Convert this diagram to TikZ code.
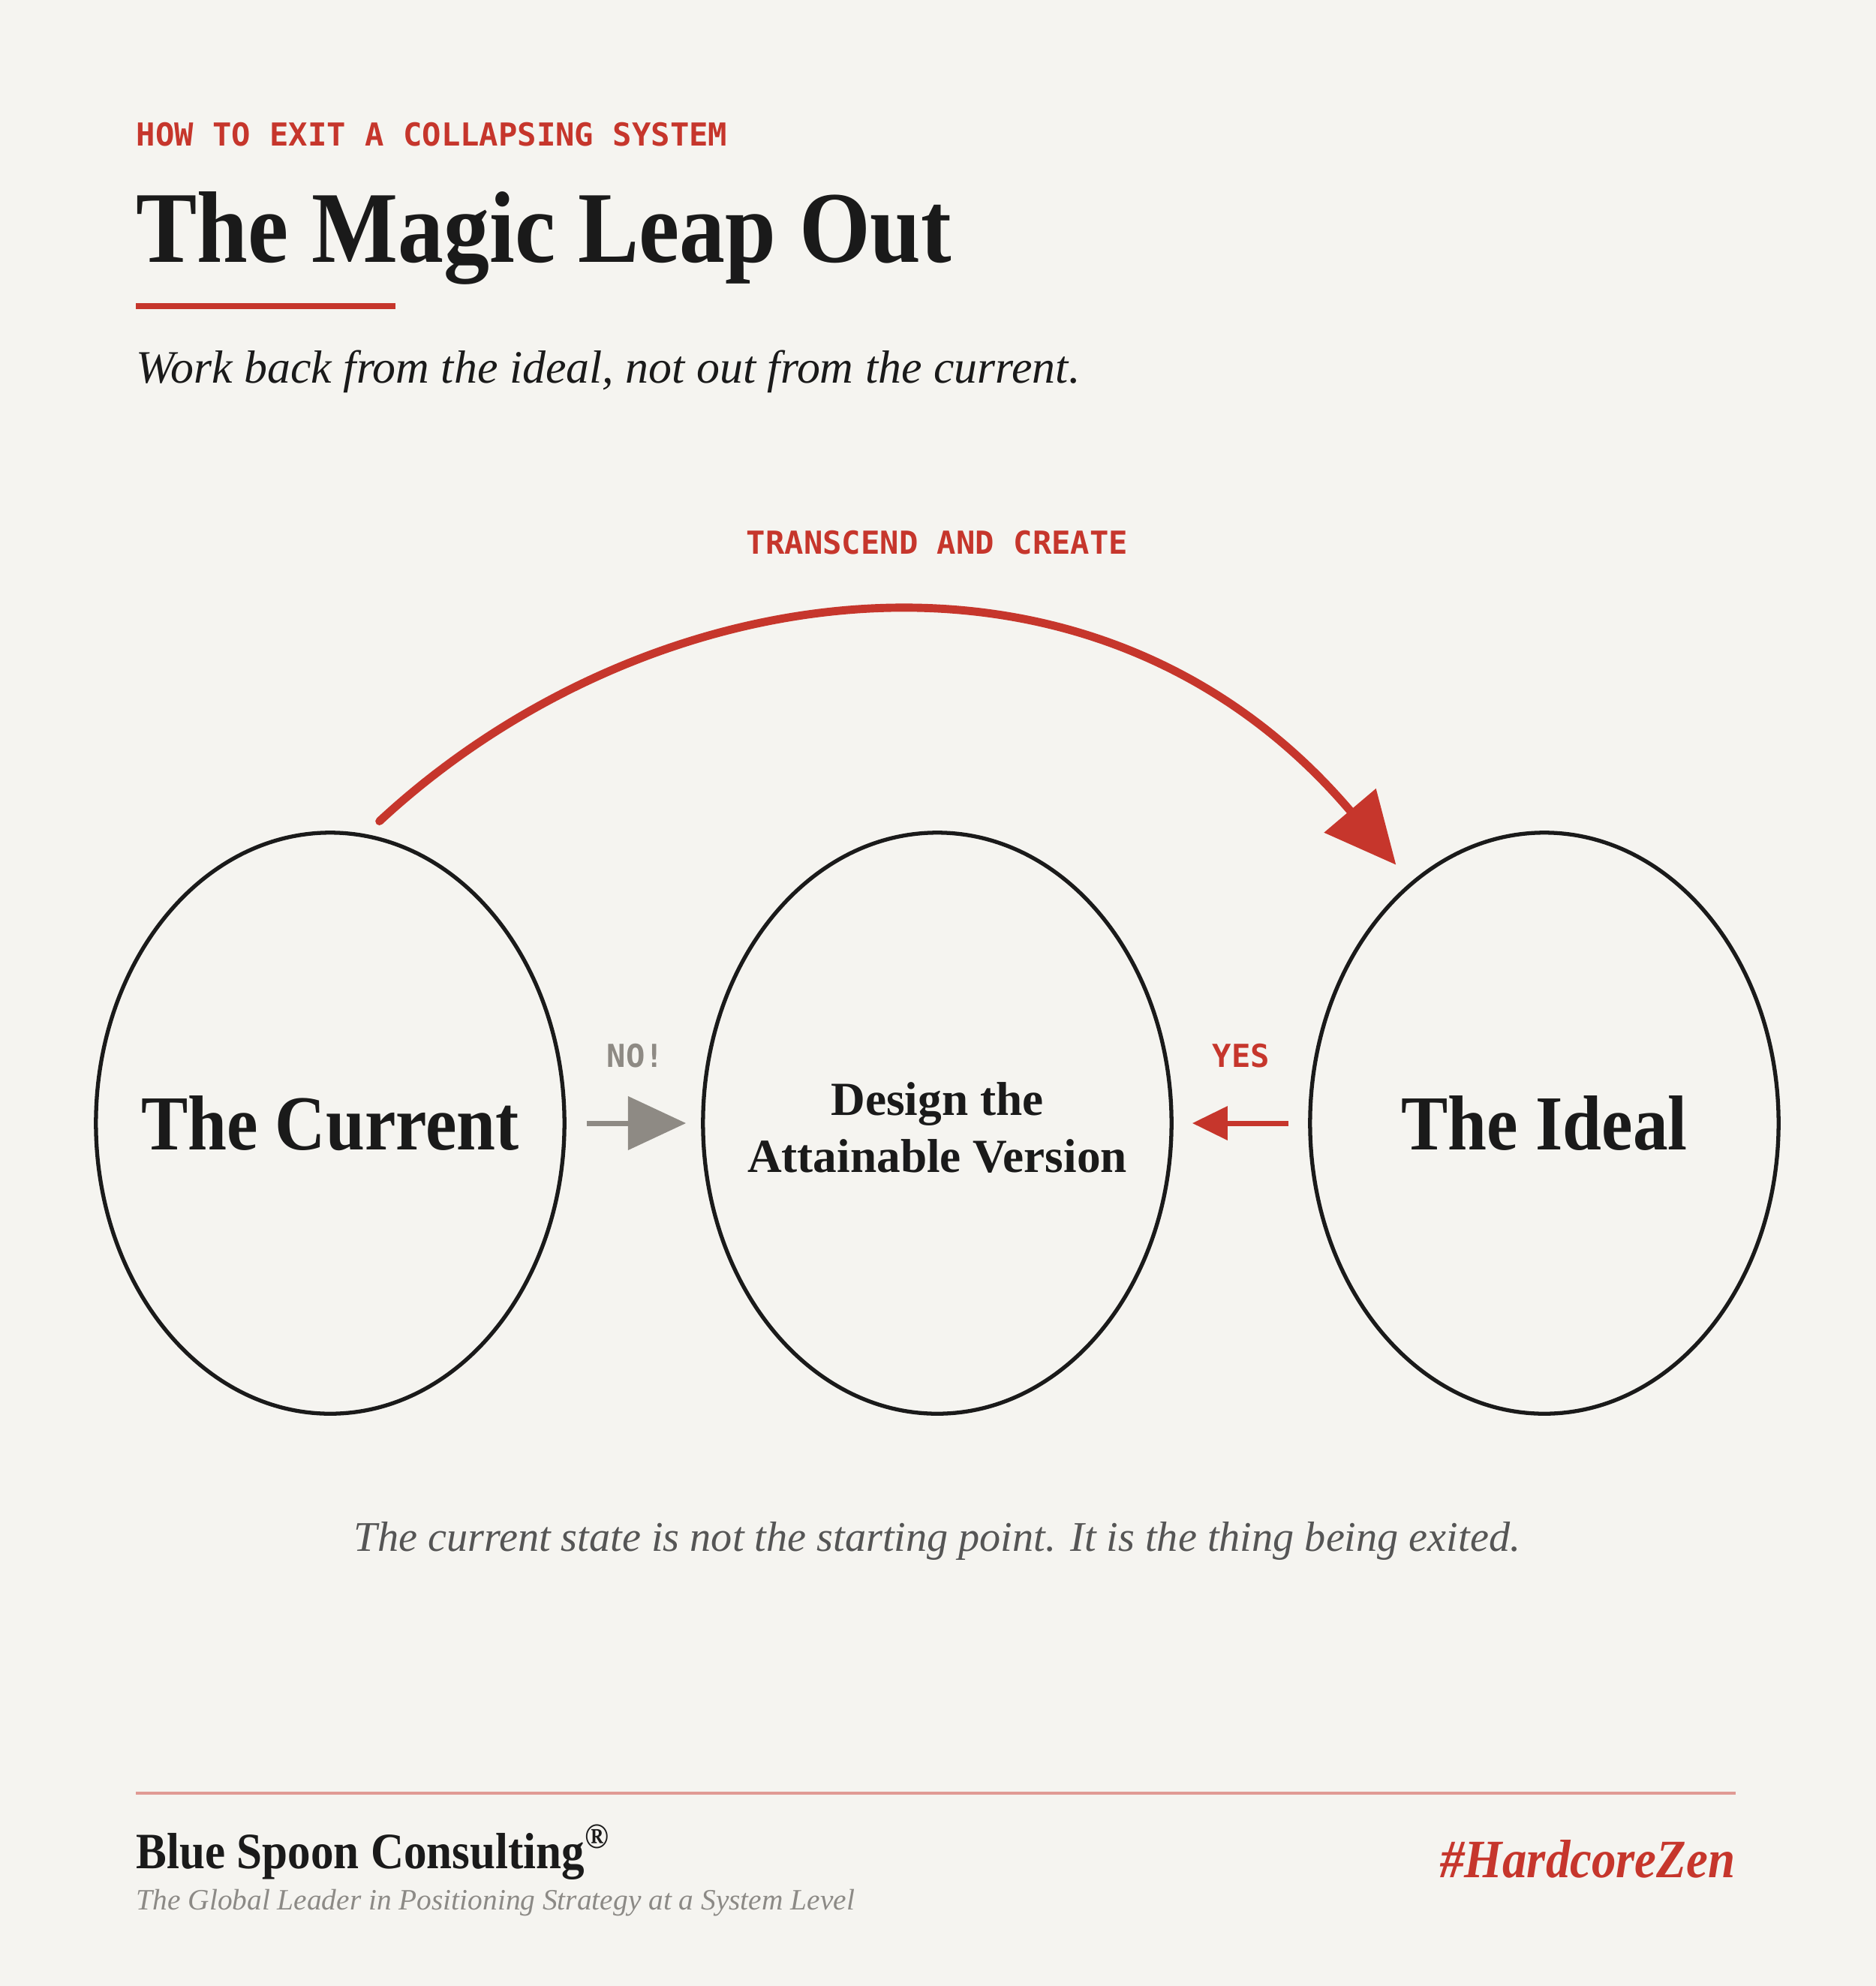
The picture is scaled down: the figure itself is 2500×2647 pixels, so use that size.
\documentclass[tikz,border=0pt]{standalone}
\usepackage{fontspec}
\setmainfont{Liberation Serif}
\newfontfamily\displayfont[FakeStretch=0.9]{Liberation Serif}
\newfontfamily\capsfont{DejaVu Sans Mono}
\usetikzlibrary{shapes.geometric,arrows.meta}

\definecolor{paper}{HTML}{F5F4F0}
\definecolor{leapred}{HTML}{C6362C}
\definecolor{ink}{HTML}{1A1A1A}
\definecolor{stone}{HTML}{8E8A84}
\definecolor{slate}{HTML}{555555}
\definecolor{mist}{HTML}{8C8A86}
\definecolor{rulered}{HTML}{E09A94}

\begin{document}
\begin{tikzpicture}
[
x=0.01cm, y=0.01cm,
state/.style={
% The shape:
ellipse,
% The size:
minimum width=6.24cm,
minimum height=7.74cm,
inner sep=0pt,
% The border:
line width=1.5pt,
draw=ink,
},
statetext/.style={
% The text: sits in the middle of its state
text=ink,
align=center,
inner sep=0pt,
},
kicker/.style={
% The font: monospaced, bold
font=\capsfont\bfseries\fontsize{12}{14}\selectfont,
% The colour:
text=leapred,
inner sep=0pt,
},
headline/.style={
% The font: a narrowed serif, bold
font=\displayfont\bfseries\fontsize{38.5}{44}\selectfont,
text=ink,
inner sep=0pt,
},
remark/.style={
% The font: serif italic
font=\itshape\fontsize{17.6}{21}\selectfont,
text=ink,
inner sep=0pt,
},
nogo/.style={
% The line:
line width=2pt,
draw=stone,
% The tip: a plain triangle
-{Triangle[length=22pt,width=20pt,fill=stone]},
shorten <=0.27cm,
shorten >=0.2cm,
},
yesgo/.style={
% The line:
line width=2pt,
draw=leapred,
% The tip: a smaller triangle
-{Triangle[length=13.4pt,width=12.5pt,fill=leapred]},
shorten <=0.26cm,
shorten >=0.25cm,
},
leap/.style={
% The line:
line width=3.1pt,
draw=leapred,
line cap=round,
% The tip: a big triangle
-{Triangle[length=27pt,width=25pt,fill=leapred]},
shorten <=0.25cm,
shorten >=0.3cm,
}
]
    % the paper
    \fill[paper] (0,0) rectangle (2500,-2647);

    % heading
    \node[kicker, anchor=base west] (kick) at (181,-194) {HOW TO EXIT A COLLAPSING SYSTEM};
    \node[headline, anchor=base west] (title) at (181,-349) {The Magic Leap Out};
    \draw[leapred, line width=2.5pt] (181,-408) -- (527,-408);
    \node[remark, anchor=base west] (sub) at (181,-510) {Work back from the ideal, not out from the current.};

    % the three states
    \node[state] (cur) at (440,-1497) {};
    \node[state] (mid) at (1249,-1497) {};
    \node[state] (ideal) at (2058,-1497) {};
    \node[statetext, font=\displayfont\bfseries\fontsize{29.5}{34}\selectfont] (curtext) at (cur) {The Current};
    \node[statetext, font=\bfseries\fontsize{18}{21.5}\selectfont, yshift=-0.06cm] (midtext) at (mid) {Design the\\Attainable Version};
    \node[statetext, font=\displayfont\bfseries\fontsize{29.5}{34}\selectfont] (idealtext) at (ideal) {The Ideal};

    % labels
    \node[kicker, anchor=base] (leaplabel) at (1249,-738) {TRANSCEND AND CREATE};
    \node[kicker, anchor=base, text=stone] (nolabel) at (847,-1422) {NO!};
    \node[kicker, anchor=base] (yeslabel) at (1654,-1422) {YES};

    % arrows
    \draw[leap] (cur.83) .. controls +(377,350) and +(-424,500) .. (ideal.119);
    \draw[nogo] (cur.east) -- (mid.west);
    \draw[yesgo] (ideal.west) -- (mid.east);

    % closing line
    \node[anchor=base, inner sep=0pt, text=slate, font=\itshape\fontsize{16}{19}\selectfont] (note) at (1249,-2067) {The current state is not the starting point. It is the thing being exited.};

    % footer
    \draw[rulered, line width=1.1pt] (181,-2390) -- (2313,-2390);
    \node[anchor=base west, inner sep=0pt, text=ink, font=\displayfont\bfseries\fontsize{19.3}{23}\selectfont] (brand) at (181,-2490) {Blue Spoon Consulting\textsuperscript{®}};
    \node[anchor=base west, inner sep=0pt, text=mist, font=\itshape\fontsize{11.2}{13}\selectfont] (motto) at (181,-2545) {The Global Leader in Positioning Strategy at a System Level};
    \node[anchor=base east, inner sep=0pt, text=leapred, font=\displayfont\bfseries\itshape\fontsize{20.5}{24}\selectfont] (tag) at (2313,-2502) {\#HardcoreZen};
\end{tikzpicture}
\end{document}
